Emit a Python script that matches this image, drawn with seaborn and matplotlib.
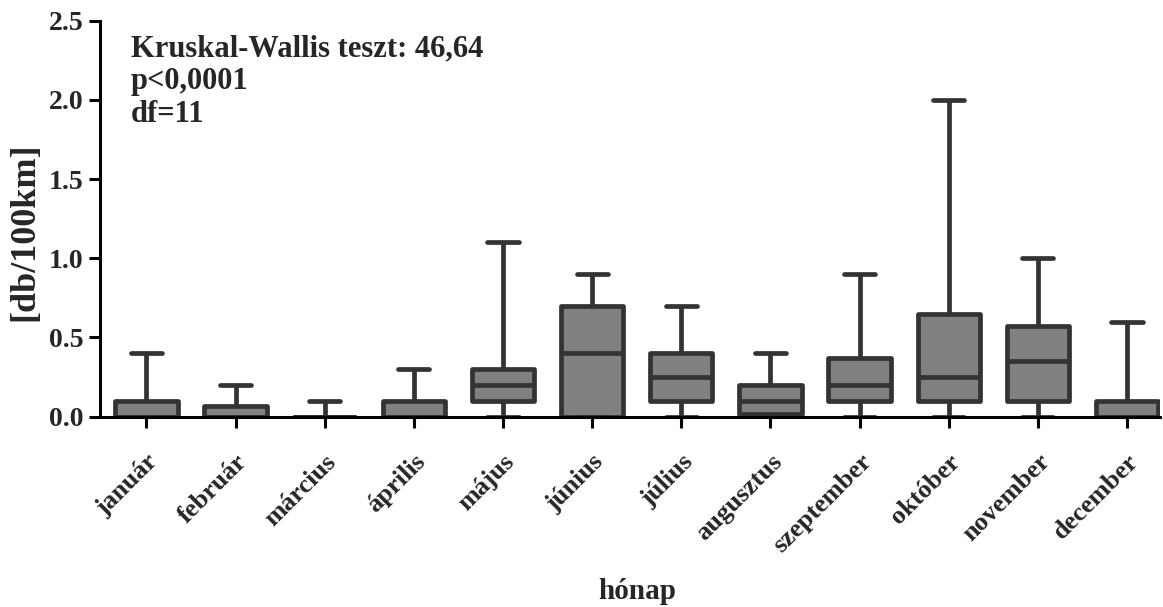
import matplotlib
matplotlib.use("Agg")
import matplotlib.pyplot as plt
import seaborn as sns
import pandas as pd
import numpy as np

months = ["január", "február", "március", "április", "május", "június",
          "július", "augusztus", "szeptember", "október", "november", "december"]
mins    = [0.0, 0.0, 0.0, 0.0, 0.0, 0.0, 0.0, 0.0, 0.0, 0.0, 0.0, 0.0]
q1s     = [0.0, 0.0, 0.0, 0.0, 0.1, 0.0, 0.1, 0.02, 0.1, 0.1, 0.1, 0.0]
medians = [0.0, 0.0, 0.0, 0.0, 0.2, 0.4, 0.25, 0.1, 0.2, 0.25, 0.35, 0.0]
q3s     = [0.1, 0.07, 0.0, 0.1, 0.3, 0.7, 0.4, 0.2, 0.37, 0.65, 0.57, 0.1]
maxs    = [0.4, 0.2, 0.1, 0.3, 1.1, 0.9, 0.7, 0.4, 0.9, 2.0, 1.0, 0.6]
yticks = [0.0, 0.5, 1.0, 1.5, 2.0, 2.5]
ytick_labels = ["0.0", "0.5", "1.0", "1.5", "2.0", "2.5"]
annotation = ["Kruskal-Wallis teszt: 46,64", "p<0,0001", "df=11"]

rows = []
for m, a, b, c, d, e in zip(months, mins, q1s, medians, q3s, maxs):
    for v in (a, b, c, d, e):
        rows.append({"hónap": m, "value": v})
df = pd.DataFrame(rows)

sns.set_style("ticks")
plt.rcParams["font.family"] = ["Liberation Serif", "DejaVu Serif"]
plt.rcParams["font.weight"] = "bold"

W, H = 1163, 607
y0_px, y1_px = 416.7, 20.7
fig = plt.figure(figsize=(W / 100, H / 100), dpi=100)
ax = fig.add_axes([100 / W, 1 - y0_px / H, 1060 / W, (y0_px - y1_px) / H])

sns.boxplot(data=df, x="hónap", y="value", order=months, whis=(0, 100),
            width=0.7, color="#808080", linecolor="#333333", linewidth=3.4,
            saturation=1, fliersize=0, ax=ax)
for p in ax.patches:
    p.set_joinstyle("round")

ax.set_xlim(-0.52, 11.37)
ax.set_ylim(0, 2.5)
ax.set_yticks(yticks)
ax.set_yticklabels(ytick_labels, fontsize=20, fontweight="bold")
ax.set_xticks(range(len(months)))
ax.set_xticklabels(months, rotation=45, ha="right", rotation_mode="anchor",
                   fontsize=19, fontweight="bold")
ax.tick_params(axis="both", direction="out", length=8, width=2.2, color="black")
ax.tick_params(axis="x", pad=16)
ax.tick_params(axis="y", pad=4)
for side in ("left", "bottom"):
    ax.spines[side].set_linewidth(2.2)
    ax.spines[side].set_color("black")
for side in ("top", "right"):
    ax.spines[side].set_visible(False)

ax.set_ylabel("[db/100km]", fontsize=26, fontweight="bold")
ax.yaxis.set_label_coords((25 - 100) / 1060, (y0_px - 232) / (y0_px - y1_px))
ax.yaxis.label.set_va("center")
ax.set_xlabel("hónap", fontsize=21, fontweight="bold")
ax.xaxis.set_label_coords((637 - 100) / 1060, -(592 - y0_px) / (y0_px - y1_px))
ax.xaxis.label.set_va("center")

for i, line in enumerate(annotation):
    ypix = 56 + 33 * i
    fig.text(131 / W, 1 - ypix / H, line, ha="left", va="baseline",
             fontsize=22, fontweight="bold")

fig.savefig("out.png", dpi=100)
